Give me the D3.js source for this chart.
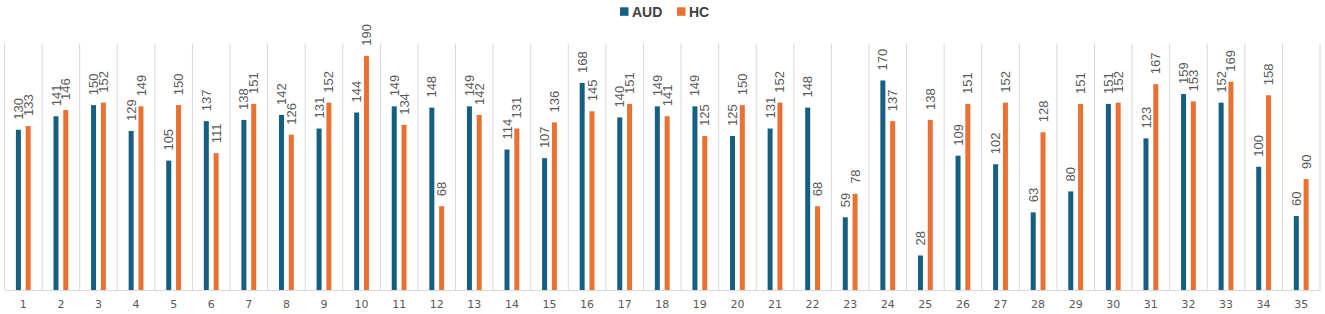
<!DOCTYPE html>
<html>
<head>
<meta charset="utf-8">
<script src="https://cdn.jsdelivr.net/npm/d3@7"></script>
<style>
  html, body { margin: 0; padding: 0; background: #ffffff; }
  svg { display: block; }
</style>
</head>
<body>
<script>
const categories = ["1","2","3","4","5","6","7","8","9","10","11","12","13","14","15","16","17","18","19","20","21","22","23","24","25","26","27","28","29","30","31","32","33","34","35"];
const audValues = [130,141,150,129,105,137,138,142,131,144,149,148,149,114,107,168,140,149,149,125,131,148,59,170,28,109,102,63,80,151,123,159,152,100,60];
const hcValues  = [133,146,152,149,150,111,151,126,152,190,134,68,142,131,136,145,151,141,125,150,152,68,78,137,138,151,152,128,151,152,167,153,169,158,90];
const seriesNames = ["AUD","HC"];
const seriesColors = ["#156082","#E97132"];
const yDomain = [0, 200];

(function () {
const W = 1325, H = 314;
const mLeft = 4.5, mRight = 1320, mTop = 43.5, mBottom = 290;

const svg = d3.select("body").append("svg").attr("width", W).attr("height", H);

const x = d3.scaleBand().domain(categories).range([mLeft, mRight]).padding(0);
const xs = d3.scaleBand().domain(seriesNames).range([-7.4, 7.4]).paddingInner(0.49).paddingOuter(0);
const y = d3.scaleLinear().domain(yDomain).range([mBottom, mTop]);

// vertical gridlines at category boundaries
const bounds = categories.map(c => x(c)).concat([x(categories[categories.length-1]) + x.bandwidth()]);
svg.append("g").selectAll("line").data(bounds).join("line")
  .attr("x1", d => d).attr("x2", d => d)
  .attr("y1", mTop).attr("y2", mBottom)
  .attr("stroke", "#d9d9d9").attr("stroke-width", 1);

// baseline axis
const xAxis = d3.axisBottom(x).tickSize(0).tickPadding(10);
const ax = svg.append("g").attr("transform", `translate(0,${mBottom})`).call(xAxis);
ax.select(".domain").attr("stroke", "#d9d9d9").attr("stroke-width", 1.2);
ax.selectAll("text")
  .attr("font-family", "DejaVu Sans, sans-serif")
  .attr("font-size", 11)
  .attr("fill", "#595959");

const data = categories.map((c, i) => ({ cat: c, values: [
  { s: "AUD", v: audValues[i], color: seriesColors[0] },
  { s: "HC", v: hcValues[i], color: seriesColors[1] }
]}));

const groups = svg.append("g").selectAll("g").data(data).join("g")
  .attr("transform", d => `translate(${x(d.cat) + x.bandwidth()/2},0)`);

groups.selectAll("rect").data(d => d.values).join("rect")
  .attr("x", d => xs(d.s))
  .attr("width", xs.bandwidth())
  .attr("y", d => y(d.v))
  .attr("height", d => y(0) - y(d.v))
  .attr("fill", d => d.color);

groups.selectAll("text").data(d => d.values).join("text")
  .attr("transform", d => `translate(${xs(d.s) + xs.bandwidth()/2},${y(d.v) - 10}) rotate(-90)`)
  .attr("dy", "0.35em")
  .attr("text-anchor", "start")
  .attr("font-family", "Liberation Sans, Arial, sans-serif")
  .attr("font-size", 13)
  .attr("fill", "#595959")
  .text(d => d.v);

// legend
const legend = svg.append("g");
const legendItems = [{ name: "AUD", color: seriesColors[0], x: 620 }, { name: "HC", color: seriesColors[1], x: 677 }];
legendItems.forEach(it => {
  legend.append("rect").attr("x", it.x).attr("y", 7.3).attr("width", 8.5).attr("height", 8.5).attr("fill", it.color);
  legend.append("text").attr("x", it.x + 12).attr("y", 16.5)
    .attr("font-family", "Liberation Sans, Arial, sans-serif")
    .attr("font-size", 14).attr("font-weight", "bold")
    .attr("fill", "#404040").text(it.name);
});
})();
</script>
</body>
</html>
